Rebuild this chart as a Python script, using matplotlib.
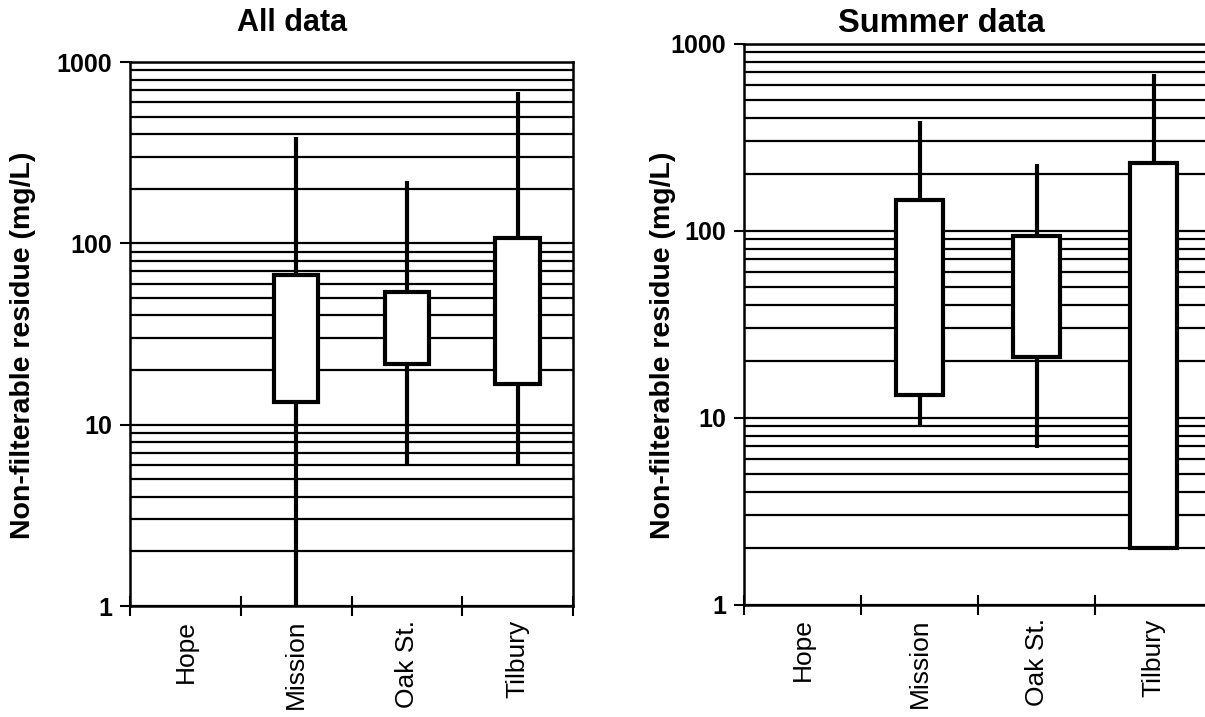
import numpy as np
import matplotlib
matplotlib.use("Agg")
import matplotlib.pyplot as plt
from matplotlib.ticker import LogLocator, FixedLocator, NullFormatter, FixedFormatter

plt.rcParams['font.family'] = ['Liberation Sans', 'DejaVu Sans']

# stations (Hope has no data)
cats = ["Hope", "Mission", "Oak St.", "Tilbury"]

# All data: min / lower box / upper box / max  (mg/L)
all_min = [np.nan, 1.0, 5.9, 5.9]
all_q1 = [np.nan, 13.3, 21.5, 16.8]
all_q3 = [np.nan, 67.0, 54.0, 107.0]
all_max = [np.nan, 385.0, 222.0, 680.0]

# Summer data
sum_min = [np.nan, 9.1, 6.9, 2.0]
sum_q1 = [np.nan, 13.2, 21.0, 2.0]
sum_q3 = [np.nan, 145.0, 93.0, 230.0]
sum_max = [np.nan, 384.0, 228.0, 685.0]

ylab = "Non-filterable residue (mg/L)"

W, H = 1205, 717
fig = plt.figure(figsize=(W / 100, H / 100), dpi=100)


def draw_panel(rect, lo, q1, q3, hi):
    ax = fig.add_axes(rect)
    ax.set_yscale('log')
    ax.set_ylim(1, 1000)
    ax.set_xlim(0, len(cats))
    ax.set_axisbelow(True)

    x = np.arange(len(cats)) + 0.5
    lo = np.array(lo); q1 = np.array(q1); q3 = np.array(q3); hi = np.array(hi)
    ok = ~np.isnan(q1)
    ax.vlines(x[ok], lo[ok], hi[ok], color='black', lw=3, zorder=3)
    ax.bar(x[ok], q3[ok] - q1[ok], bottom=q1[ok], width=0.4,
           facecolor='white', edgecolor='black', linewidth=3, zorder=4)

    # y axis
    ax.yaxis.set_major_locator(FixedLocator([1, 10, 100, 1000]))
    ax.yaxis.set_major_formatter(FixedFormatter(["1", "10", "100", "1000"]))
    ax.yaxis.set_minor_locator(LogLocator(base=10, subs=np.arange(2, 10)))
    ax.yaxis.set_minor_formatter(NullFormatter())
    ax.grid(axis='y', which='both', color='black', lw=1.6)
    ax.tick_params(axis='y', which='major', direction='out', length=7, width=1.5,
                   pad=6, labelsize=18)
    ax.tick_params(axis='y', which='minor', length=0)
    for t in ax.get_yticklabels():
        t.set_fontweight('bold')

    # x axis: ticks on boundaries, names centred
    ax.xaxis.set_major_locator(FixedLocator(np.arange(len(cats) + 1)))
    ax.xaxis.set_major_formatter(NullFormatter())
    ax.xaxis.set_minor_locator(FixedLocator(x))
    ax.xaxis.set_minor_formatter(FixedFormatter(cats))
    ax.tick_params(axis='x', which='major', direction='inout', length=14, width=1.5)
    ax.tick_params(axis='x', which='minor', length=0, pad=10, labelsize=19,
                   labelrotation=90)

    for s in ax.spines.values():
        s.set_linewidth(1.8)
    return ax


ax1 = draw_panel([130 / W, (H - 606) / H, 443 / W, 544 / H],
                 all_min, all_q1, all_q3, all_max)
ax2 = draw_panel([744 / W, (H - 604.5) / H, 468 / W, 561 / H],
                 sum_min, sum_q1, sum_q3, sum_max)

fig.text(292 / W, 1 - 23 / H, "All data", ha='center', va='center',
         fontsize=22, fontweight='bold')
fig.text(941 / W, 1 - 23 / H, "Summer data", ha='center', va='center',
         fontsize=23.5, fontweight='bold')

fig.text(23 / W, 1 - 345 / H, ylab, rotation=90, ha='center', va='center',
         fontsize=20.5, fontweight='bold')
fig.text(663 / W, 1 - 345 / H, ylab, rotation=90, ha='center', va='center',
         fontsize=20.5, fontweight='bold')

fig.savefig('out.png', dpi=100)
